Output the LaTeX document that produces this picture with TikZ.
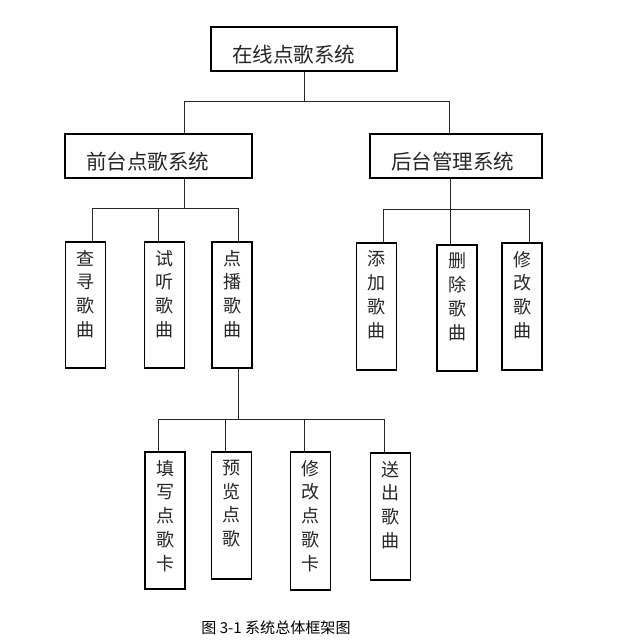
\documentclass[tikz,border=0pt]{standalone}
\usepackage{fontspec}
\setmainfont{Noto Sans CJK SC}
\usetikzlibrary{positioning, calc}

% column of characters, top aligned in a box of given height
\newcommand{\vcol}[2]{\parbox[c][#1][t]{2em}{\centering\vspace*{6pt}#2}}

\begin{document}
\begin{tikzpicture}[
    x=0.75pt, y=-0.75pt,
    hbox/.style={
        draw=black,
        line width=0.8pt,
        inner xsep=15.75pt,
        inner ysep=0pt,
        align=left,
        minimum height=33pt,
        text height=20.5pt,
        text depth=0pt,
        text=black!85,
        font=\fontsize{15.4}{18}\selectfont
    },
    vbox/.style={
        draw=black,
        line width=0.8pt,
        inner sep=0pt,
        minimum width=30pt,
        text=black!85,
        font=\fontsize{13.5}{17.8}\selectfont
    },
    link/.style={
        draw=black!85,
        line width=0.75pt
    }
]

\fill[white] (0,0) rectangle (617,642);
\useasboundingbox (0,0) rectangle (617,642);

% Nodes
\node (sys) [hbox, text width=108pt] at (304,49) {在线点歌系统};
\node (front) [hbox, text width=108.75pt] at (158.5,156) {前台点歌系统};
\node (back) [hbox, text width=97.5pt] at (456,156) {后台管理系统};

\node (query) [vbox] at (85.5,305) {\vcol{94.5pt}{查\\寻\\歌\\曲}};
\node (listen) [vbox] at (164.5,305) {\vcol{94.5pt}{试\\听\\歌\\曲}};
\node (order) [vbox] at (232,305) {\vcol{94.5pt}{点\\播\\歌\\曲}};

\node (add) [vbox] at (376.5,306.5) {\vcol{95.25pt}{添\\加\\歌\\曲}};
\node (del) [vbox] at (457,308) {\vcol{94.5pt}{删\\除\\歌\\曲}};
\node (edit) [vbox] at (522,306.5) {\vcol{95.25pt}{修\\改\\歌\\曲}};

\node (fill) [vbox] at (165,520.5) {\vcol{102.75pt}{填\\写\\点\\歌\\卡}};
\node (preview) [vbox] at (231.5,515.5) {\vcol{95.25pt}{预\\览\\点\\歌}};
\node (change) [vbox] at (310.5,521) {\vcol{103.5pt}{修\\改\\点\\歌\\卡}};
\node (send) [vbox] at (390.5,516.5) {\vcol{95.25pt}{送\\出\\歌\\曲}};

\node (cap) [font=\fontsize{11.3}{13}\selectfont] at (276,628) {图 3-1 系统总体框架图};

% Bus points
\coordinate (b1l) at (184,101);
\coordinate (b1r) at (449,101);
\coordinate (b2l) at (92,208);
\coordinate (b2m) at (158,208);
\coordinate (b2r) at (238,208);
\coordinate (b3l) at (383,209);
\coordinate (b3m) at (450,209);
\coordinate (b3r) at (529,209);
\coordinate (b4l) at (158,419);
\coordinate (b4a) at (225,419);
\coordinate (b4b) at (304,419);
\coordinate (b4r) at (384,419);

% Paths
\draw [link] (sys.south) -- (sys.south |- b1l);
\draw [link] (b1l) -- (b1r);
\draw [link] (b1l) -- (b1l |- front.north);
\draw [link] (b1r) -- (b1r |- back.north);

\draw [link] (b1l |- front.south) -- (b1l |- b2l);
\draw [link] (b2l) -- (b2r);
\draw [link] (b2l) -- (b2l |- query.north);
\draw [link] (b2m) -- (b2m |- listen.north);
\draw [link] (b2r) -- (b2r |- order.north);

\draw [link] (b3m |- back.south) -- (b3m);
\draw [link] (b3l) -- (b3r);
\draw [link] (b3l) -- (b3l |- add.north);
\draw [link] (b3m) -- (b3m |- del.north);
\draw [link] (b3r) -- (b3r |- edit.north);

\draw [link] (b2r |- order.south) -- (b2r |- b4l);
\draw [link] (b4l) -- (b4r);
\draw [link] (b4l) -- (b4l |- fill.north);
\draw [link] (b4a) -- (b4a |- preview.north);
\draw [link] (b4b) -- (b4b |- change.north);
\draw [link] (b4r) -- (b4r |- send.north);

\end{tikzpicture}
\end{document}
